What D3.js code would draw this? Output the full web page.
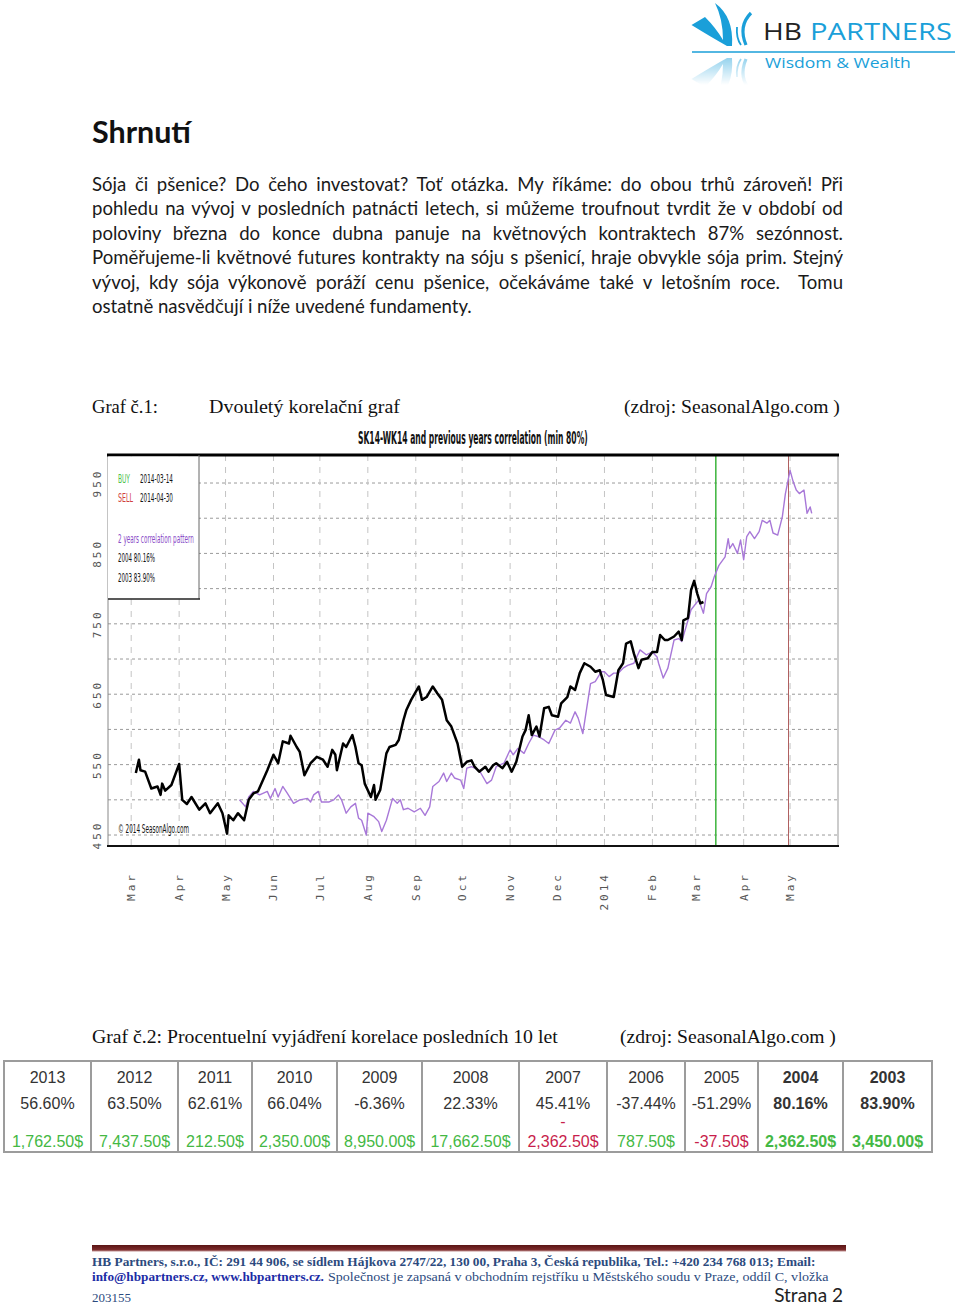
<!DOCTYPE html>
<html><head><meta charset="utf-8">
<script src="https://cdn.jsdelivr.net/npm/d3@7"></script>
<style>body{margin:0;background:#fff}svg{display:block}</style>
</head><body>
<svg id="page" width="960" height="1305"></svg>
<script>
// ---------------- DATA ----------------
const yTickValues = [450, 550, 650, 750, 850, 950];
const yGridValues = [450, 500, 550, 600, 650, 700, 750, 800, 850, 900, 950];
const monthDates = ["2013-03-01","2013-04-01","2013-05-01","2013-06-01","2013-07-01","2013-08-01","2013-09-01","2013-10-01","2013-11-01","2013-12-01","2014-01-01","2014-02-01","2014-03-01","2014-04-01","2014-05-01"];
const monthLabels = ["Mar","Apr","May","Jun","Jul","Aug","Sep","Oct","Nov","Dec","2014","Feb","Mar","Apr","May"];
const buyDate = "2014-03-14";
const sellDate = "2014-04-30";
const patternYears = ["2004 80.16%", "2003 83.90%"];

// SK14-WK14 spread (black)
const spreadSeries = [
["2013-03-04",538],["2013-03-06",557],["2013-03-07",542],["2013-03-10",540],["2013-03-14",516],["2013-03-18",519],["2013-03-20",507],["2013-03-21",523],["2013-03-23",513],["2013-03-27",521],["2013-04-01",551],["2013-04-03",500],["2013-04-06",494],["2013-04-09",504],["2013-04-14",486],["2013-04-18",495],["2013-04-21",481],["2013-04-26",495],["2013-04-29",481],["2013-05-02",452],["2013-05-03",478],["2013-05-06",471],["2013-05-09",481],["2013-05-13",471],["2013-05-16",500],["2013-05-19",509],["2013-05-22",512],["2013-05-28",542],["2013-06-01",564],["2013-06-04",552],["2013-06-07",583],["2013-06-11",580],["2013-06-12",591],["2013-06-16",575],["2013-06-18",568],["2013-06-21",535],["2013-06-25",552],["2013-06-29",561],["2013-07-03",557],["2013-07-06",547],["2013-07-09",571],["2013-07-11",564],["2013-07-12",542],["2013-07-16",580],["2013-07-18",575],["2013-07-22",592],["2013-07-24",575],["2013-07-26",552],["2013-07-28",549],["2013-07-30",523],["2013-08-03",504],["2013-08-05",521],["2013-08-06",500],["2013-08-09",514],["2013-08-13",566],["2013-08-15",575],["2013-08-19",578],["2013-08-21",585],["2013-08-24",613],["2013-08-26",628],["2013-08-29",642],["2013-09-03",661],["2013-09-05",642],["2013-09-08",646],["2013-09-12",661],["2013-09-15",651],["2013-09-18",642],["2013-09-21",613],["2013-09-24",604],["2013-09-28",580],["2013-10-01",547],["2013-10-04",554],["2013-10-07",556],["2013-10-09",547],["2013-10-12",540],["2013-10-16",547],["2013-10-18",540],["2013-10-21",549],["2013-10-23",552],["2013-10-27",545],["2013-10-30",554],["2013-11-02",540],["2013-11-05",554],["2013-11-09",590],["2013-11-11",599],["2013-11-13",620],["2013-11-15",592],["2013-11-18",604],["2013-11-20",590],["2013-11-23",630],["2013-11-26",632],["2013-11-28",620],["2013-12-02",618],["2013-12-04",637],["2013-12-08",646],["2013-12-10",661],["2013-12-13",656],["2013-12-16",680],["2013-12-19",694],["2013-12-23",689],["2013-12-26",682],["2013-12-29",684],["2013-12-31",670],["2014-01-02",649],["2014-01-07",646],["2014-01-10",684],["2014-01-13",694],["2014-01-15",722],["2014-01-18",725],["2014-01-20",708],["2014-01-23",687],["2014-01-25",699],["2014-01-29",701],["2014-02-01",710],["2014-02-04",710],["2014-02-06",734],["2014-02-09",727],["2014-02-11",727],["2014-02-15",732],["2014-02-18",739],["2014-02-20",727],["2014-02-21",755],["2014-02-24",758],["2014-02-26",798],["2014-02-28",811],["2014-03-02",793],["2014-03-04",779],["2014-03-06",781]
];

// 2 years correlation pattern (purple)
const patternSeries = [
["2013-05-10",500],["2013-05-14",490],["2013-05-16",504],["2013-05-19",512],["2013-05-23",507],["2013-05-28",512],["2013-05-30",502],["2013-06-02",516],["2013-06-04",504],["2013-06-07",519],["2013-06-10",509],["2013-06-14",495],["2013-06-18",500],["2013-06-23",502],["2013-06-25",497],["2013-06-27",507],["2013-06-30",512],["2013-07-02",497],["2013-07-07",497],["2013-07-10",500],["2013-07-13",507],["2013-07-15",500],["2013-07-18",481],["2013-07-21",490],["2013-07-24",495],["2013-07-26",474],["2013-07-28",471],["2013-07-31",450],["2013-08-01",481],["2013-08-05",476],["2013-08-08",469],["2013-08-10",455],["2013-08-13",471],["2013-08-17",502],["2013-08-20",495],["2013-08-22",500],["2013-08-24",486],["2013-08-27",488],["2013-08-31",483],["2013-09-04",488],["2013-09-07",478],["2013-09-10",490],["2013-09-12",519],["2013-09-16",526],["2013-09-19",538],["2013-09-21",526],["2013-09-24",538],["2013-09-26",531],["2013-09-30",528],["2013-10-02",516],["2013-10-04",545],["2013-10-07",547],["2013-10-12",542],["2013-10-17",523],["2013-10-20",528],["2013-10-23",547],["2013-10-28",552],["2013-11-01",571],["2013-11-03",564],["2013-11-06",573],["2013-11-10",566],["2013-11-13",580],["2013-11-16",592],["2013-11-19",590],["2013-11-23",585],["2013-11-26",580],["2013-11-30",599],["2013-12-03",602],["2013-12-07",613],["2013-12-10",609],["2013-12-13",625],["2013-12-15",616],["2013-12-18",594],["2013-12-21",637],["2013-12-23",665],["2013-12-26",668],["2013-12-28",675],["2013-12-30",682],["2014-01-01",682],["2014-01-04",675],["2014-01-07",680],["2014-01-10",680],["2014-01-13",687],["2014-01-16",691],["2014-01-20",694],["2014-01-24",713],["2014-01-28",706],["2014-02-01",710],["2014-02-04",703],["2014-02-05",694],["2014-02-08",673],["2014-02-11",687],["2014-02-15",727],["2014-02-18",729],["2014-02-20",725],["2014-02-26",770],["2014-03-03",784],["2014-03-06",765],["2014-03-08",793],["2014-03-11",803],["2014-03-13",817],["2014-03-16",833],["2014-03-20",845],["2014-03-22",871],["2014-03-23",857],["2014-03-25",864],["2014-03-28",850],["2014-03-30",869],["2014-04-01",841],["2014-04-03",874],["2014-04-05",881],["2014-04-08",871],["2014-04-11",881],["2014-04-13",897],["2014-04-16",893],["2014-04-18",897],["2014-04-20",879],["2014-04-23",876],["2014-04-26",902],["2014-04-28",935],["2014-05-01",968],["2014-05-03",952],["2014-05-05",940],["2014-05-07",935],["2014-05-10",940],["2014-05-12",907],["2014-05-14",916],["2014-05-15",907]
];

// Table (Graf č.2)
const tableYears = ["2013","2012","2011","2010","2009","2008","2007","2006","2005","2004","2003"];
const tableCorrelation = ["56.60%","63.50%","62.61%","66.04%","-6.36%","22.33%","45.41%","-37.44%","-51.29%","80.16%","83.90%"];
const tableProfit = [1762.5, 7437.5, 212.5, 2350, 8950, 17662.5, -2362.5, 787.5, -37.5, 2362.5, 3450];
const tableHighlight = ["2004","2003"];

const bodyLines = [
"Sója či pšenice? Do čeho investovat? Toť otázka. My říkáme: do obou trhů zároveň! Při",
"pohledu na vývoj v posledních patnácti letech, si můžeme troufnout tvrdit že v období od",
"poloviny března do konce dubna panuje na květnových kontraktech 87% sezónnost.",
"Poměřujeme-li květnové futures kontrakty na sóju s pšenicí, hraje obvykle sója prim. Stejný",
"vývoj, kdy sója výkonově poráží cenu pšenice, očekáváme také v letošním roce.  Tomu",
"ostatně nasvědčují i níže uvedené fundamenty."
];

// ---------------- DRAW ----------------
function draw(){
const svg = d3.select("#page");
const parse = d3.timeParse("%Y-%m-%d");

// place a start-anchored text and squeeze/stretch it horizontally to a given width
function fitText(parent, xx, yy, txt, len, attrs){
  const t = parent.append("text").attr("x",0).attr("y",0);
  Object.entries(attrs).forEach(([k,v])=>t.attr(k,v));
  t.text(txt);
  const w = t.node().getComputedTextLength();
  t.attr("transform",`translate(${xx},${yy}) scale(${len/w},1)`);
  return t;
}

// ---- Logo ----
const defs = svg.append("defs");
const g1 = defs.append("linearGradient").attr("id","fade").attr("x1",0).attr("y1",0).attr("x2",0).attr("y2",1);
g1.append("stop").attr("offset",0).attr("stop-color","#fff").attr("stop-opacity",0.55);
g1.append("stop").attr("offset",1).attr("stop-color","#fff").attr("stop-opacity",0);
defs.append("mask").attr("id","reflMask").attr("maskUnits","userSpaceOnUse")
  .attr("x",680).attr("y",53).attr("width",100).attr("height",32)
  .append("rect").attr("x",680).attr("y",53).attr("width",100).attr("height",32).attr("fill","url(#fade)");

const blue = "#1a9fd9";
function swoosh(g){
  g.append("path").attr("d","M691.5,25 L705,17 Q716,28 723,40 Q723,19 715,3 Q734,17 732,46 L727,46 Q711,37 691.5,25 Z").attr("fill",blue);
  g.append("path").attr("d","M751,13 Q738,26 746,45").attr("fill","none").attr("stroke",blue).attr("stroke-width",3.2);
  g.append("path").attr("d","M737,27 Q736,38 741,45").attr("fill","none").attr("stroke",blue).attr("stroke-width",1.8);
}
swoosh(svg.append("g"));
swoosh(svg.append("g").attr("mask","url(#reflMask)").append("g").attr("transform","translate(0,104) scale(1,-1)"));
svg.append("line").attr("x1",692).attr("x2",955).attr("y1",52).attr("y2",52).attr("stroke",blue).attr("stroke-width",1.6);
fitText(svg,763,40,"HB",39,{"font-family":"Open Sans","font-size":24,"fill":"#222"});
fitText(svg,810,40,"PARTNERS",142,{"font-family":"Open Sans","font-size":24,"fill":blue});
fitText(svg,765,68,"Wisdom & Wealth",146,{"font-family":"Open Sans","font-size":15,"fill":blue});

// ---- Heading & body ----
fitText(svg,92,143,"Shrnutí",99,{"font-family":"Lato","font-weight":700,"font-size":30,"fill":"#111"});

let fs = 17;
const probe = svg.append("text").attr("font-family","Lato").attr("font-size",fs).text(bodyLines[bodyLines.length-1]);
fs = fs * 380 / probe.node().getComputedTextLength();
probe.remove();
bodyLines.forEach((ln,i)=>{
  const t = svg.append("text").attr("x",92).attr("y",191 + i*24.4).attr("font-family","Lato")
    .attr("font-size",fs).attr("fill","#1a1a1a").style("white-space","pre").text(ln);
  if(i < bodyLines.length-1){
    const nat = t.node().getComputedTextLength();
    const gaps = (ln.match(/ /g)||[]).length;
    t.style("word-spacing", ((843-92-nat)/gaps) + "px");
  }
});

// ---- Captions ----
const serifAttrs = {"font-family":"Liberation Serif","font-size":19,"fill":"#111"};
fitText(svg,92,413,"Graf č.1:",66,serifAttrs);
fitText(svg,209,413,"Dvouletý korelační graf",191,serifAttrs);
fitText(svg,624,413,"(zdroj: SeasonalAlgo.com )",216,serifAttrs);
fitText(svg,92,1043,"Graf č.2: Procentuelní vyjádření korelace posledních 10 let",466,serifAttrs);
fitText(svg,620,1043,"(zdroj: SeasonalAlgo.com )",216,serifAttrs);

// ---- Chart ----
const L=108, R=838, T=455, B=846;
const x = d3.scaleTime().domain([parse("2013-02-14"), parse("2014-06-01")]).range([L,R]);
const y = d3.scaleLinear().domain([434.4, 989.8]).range([B,T]);
const cond = "DejaVu Sans Condensed, Liberation Sans Narrow, sans-serif";

fitText(svg,358,444,"SK14-WK14 and previous years correlation (min 80%)",230,
  {"font-family":cond,"font-weight":700,"font-size":17,"fill":"#111"});

const chart = svg.append("g");
// grid
chart.selectAll("line.hg").data(yGridValues).join("line").attr("class","hg")
  .attr("x1",L).attr("x2",R).attr("y1",d=>y(d)).attr("y2",d=>y(d))
  .attr("stroke","#9a9a9a").attr("stroke-width",1).attr("stroke-dasharray","3,3");
chart.selectAll("line.vg").data(monthDates).join("line").attr("class","vg")
  .attr("x1",d=>x(parse(d))).attr("x2",d=>x(parse(d))).attr("y1",T).attr("y2",B)
  .attr("stroke","#c4c4c4").attr("stroke-width",1).attr("stroke-dasharray","6,6");

// buy / sell markers
chart.append("line").attr("x1",x(parse(buyDate))).attr("x2",x(parse(buyDate))).attr("y1",T).attr("y2",B)
  .attr("stroke","#3cb43c").attr("stroke-width",1.5);
chart.append("line").attr("x1",x(parse(sellDate))).attr("x2",x(parse(sellDate))).attr("y1",T).attr("y2",B)
  .attr("stroke","#b06060").attr("stroke-width",1);

const line = d3.line().x(d=>x(parse(d[0]))).y(d=>y(d[1]));
chart.append("path").datum(patternSeries).attr("d",line).attr("fill","none")
  .attr("stroke","#a878d8").attr("stroke-width",1.4).attr("stroke-linejoin","round");
chart.append("path").datum(spreadSeries).attr("d",line).attr("fill","none")
  .attr("stroke","#000").attr("stroke-width",2.5).attr("stroke-linejoin","round");

// frame
chart.append("line").attr("x1",L).attr("x2",L).attr("y1",T).attr("y2",B).attr("stroke","#888");
chart.append("line").attr("x1",R).attr("x2",R).attr("y1",T).attr("y2",B).attr("stroke","#999");
chart.append("line").attr("x1",L-1).attr("x2",R+1).attr("y1",T).attr("y2",T).attr("stroke","#000").attr("stroke-width",3);
chart.append("line").attr("x1",L-1).attr("x2",R+1).attr("y1",B).attr("y2",B).attr("stroke","#111").attr("stroke-width",2);

// legend box
chart.append("rect").attr("x",L).attr("y",T+1.5).attr("width",91).attr("height",143).attr("fill","#fff").attr("stroke","none");
chart.append("line").attr("x1",L+91).attr("x2",L+91).attr("y1",T).attr("y2",599).attr("stroke","#666");
chart.append("line").attr("x1",L).attr("x2",L+92).attr("y1",599).attr("y2",599).attr("stroke","#222").attr("stroke-width",1.6);
function ltxt(xx,yy,txt,len,color){
  fitText(chart,xx,yy,txt,len,{"font-family":cond,"font-size":12.5,"fill":color});
}
ltxt(118,483,"BUY",12,"#4cc24c");
ltxt(140,483,buyDate,33,"#111");
ltxt(118,502,"SELL",15,"#d04040");
ltxt(140,502,sellDate,33,"#111");
ltxt(118,543,"2 years correlation pattern",76,"#8a4cc8");
patternYears.forEach((p,i)=>ltxt(118,562+i*19.5,p,37,"#111"));
ltxt(118,833,"© 2014 SeasonAlgo.com",71,"#111");

// y labels (rotated)
chart.selectAll("text.yl").data(yTickValues).join("text").attr("class","yl")
  .attr("transform",d=>`translate(101,${y(d)}) rotate(-90)`).attr("text-anchor","middle")
  .attr("font-family","DejaVu Sans Mono").attr("font-size",11).attr("letter-spacing","3px")
  .attr("fill","#555").text(d=>d);
// x labels (rotated)
chart.selectAll("text.xl").data(monthDates).join("text").attr("class","xl")
  .attr("transform",d=>`translate(${x(parse(d))+4},872) rotate(-90)`).attr("text-anchor","end")
  .attr("font-family","DejaVu Sans Mono").attr("font-size",11).attr("letter-spacing","3px")
  .attr("fill","#555").text((d,i)=>monthLabels[i]);

// ---- Table ----
const edges = [4,91,178,252,337,422,519,607,685,758,843,932];
const tT = 1061, tB = 1152;
const tg = svg.append("g");
tg.append("rect").attr("x",edges[0]).attr("y",tT).attr("width",edges[edges.length-1]-edges[0]).attr("height",tB-tT)
  .attr("fill","#fff").attr("stroke","#9c9c9c").attr("stroke-width",2);
tg.selectAll("line.col").data(edges.slice(1,-1)).join("line").attr("class","col")
  .attr("x1",d=>d).attr("x2",d=>d).attr("y1",tT).attr("y2",tB).attr("stroke","#9c9c9c").attr("stroke-width",2);
const fmt = d3.format(",.2f");
tableYears.forEach((yr,i)=>{
  const cx = (edges[i]+edges[i+1])/2, cw = edges[i+1]-edges[i];
  const bold = tableHighlight.includes(yr) ? 700 : 400;
  const ff = "Liberation Sans", fsz = 16;
  tg.append("text").attr("x",cx).attr("y",1083).attr("text-anchor","middle").attr("font-family",ff)
    .attr("font-size",fsz).attr("font-weight",bold).attr("fill","#333").text(yr);
  tg.append("text").attr("x",cx).attr("y",1109).attr("text-anchor","middle").attr("font-family",ff)
    .attr("font-size",fsz).attr("font-weight",bold).attr("fill","#333").text(tableCorrelation[i]);
  const v = tableProfit[i];
  const col = v < 0 ? "#c81e4c" : "#44b844";
  const s = (v<0?"-":"") + fmt(Math.abs(v)) + "$";
  const t = tg.append("text").attr("x",cx).attr("y",1147).attr("text-anchor","middle").attr("font-family",ff)
    .attr("font-size",fsz).attr("font-weight",bold).attr("fill",col).text(s);
  if (t.node().getComputedTextLength() > cw - 13 && v < 0) {
    t.text(fmt(Math.abs(v)) + "$");
    tg.append("text").attr("x",cx).attr("y",1127).attr("text-anchor","middle").attr("font-family",ff)
      .attr("font-size",fsz).attr("font-weight",bold).attr("fill",col).text("-");
  }
});

// ---- Footer ----
const fg = defs.append("linearGradient").attr("id","bar").attr("x1",0).attr("y1",0).attr("x2",0).attr("y2",1);
fg.append("stop").attr("offset",0).attr("stop-color","#5a1414");
fg.append("stop").attr("offset",0.7).attr("stop-color","#7a2a2a");
fg.append("stop").attr("offset",1).attr("stop-color","#c09090");
svg.append("rect").attr("x",92).attr("y",1245).attr("width",754).attr("height",6.5).attr("fill","url(#bar)");
function ftxt(xx,yy,txt,len,color,weight,size){
  fitText(svg,xx,yy,txt,len,{"font-family":"Liberation Serif","font-size":size||13,"font-weight":weight||400,"fill":color});
}
ftxt(92,1266,"HB Partners, s.r.o., IČ: 291 44 906, se sídlem Hájkova 2747/22, 130 00, Praha 3, Česká republika, Tel.: +420 234 768 013; Email:",724,"#2c4a7e",700);
ftxt(92,1281,"info@hbpartners.cz, www.hbpartners.cz.",232,"#1c2ca6",700);
ftxt(328,1281,"Společnost je zapsaná v obchodním rejstříku u Městského soudu v Praze, oddíl C, vložka",501,"#2c4a7e",400);
ftxt(92,1302,"203155",39,"#2c4a7e",400,12);
svg.append("text").attr("x",843).attr("y",1302).attr("text-anchor","end").attr("font-family","Lato")
  .attr("font-size",19).attr("fill","#222").text("Strana 2");
}
(document.fonts && document.fonts.ready ? document.fonts.ready : Promise.resolve()).then(draw);
</script>
</body></html>
